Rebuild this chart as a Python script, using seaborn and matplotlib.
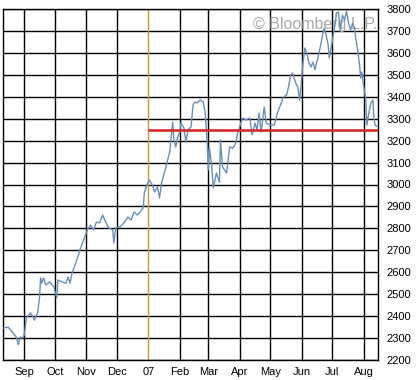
import matplotlib
matplotlib.use("Agg")
import matplotlib.pyplot as plt
import seaborn as sns
import pandas as pd

dates = [
    "2006-08-11", "2006-08-16", "2006-08-20", "2006-08-24", "2006-08-26", "2006-08-28", "2006-08-30",
    "2006-09-01", "2006-09-03", "2006-09-07", "2006-09-10", "2006-09-11", "2006-09-14", "2006-09-16",
    "2006-09-17", "2006-09-18", "2006-09-20", "2006-09-22", "2006-09-26", "2006-09-30",
    "2006-10-03", "2006-10-04", "2006-10-08", "2006-10-12", "2006-10-14", "2006-10-16", "2006-10-18",
    "2006-10-22", "2006-10-26", "2006-10-30",
    "2006-11-02", "2006-11-05", "2006-11-08", "2006-11-11", "2006-11-14", "2006-11-17", "2006-11-20",
    "2006-11-23", "2006-11-27", "2006-11-28", "2006-11-30",
    "2006-12-04", "2006-12-08", "2006-12-12", "2006-12-15", "2006-12-18", "2006-12-21", "2006-12-24",
    "2006-12-27", "2006-12-28", "2006-12-30",
    "2007-01-02", "2007-01-05", "2007-01-07", "2007-01-10", "2007-01-12", "2007-01-14", "2007-01-18",
    "2007-01-22", "2007-01-25", "2007-01-26", "2007-01-28", "2007-01-30",
    "2007-02-01", "2007-02-02", "2007-02-05", "2007-02-07", "2007-02-09", "2007-02-12", "2007-02-14",
    "2007-02-16", "2007-02-18", "2007-02-21", "2007-02-24", "2007-02-26", "2007-02-28",
    "2007-03-01", "2007-03-02", "2007-03-04", "2007-03-06", "2007-03-09", "2007-03-12", "2007-03-13",
    "2007-03-15", "2007-03-18", "2007-03-19", "2007-03-22", "2007-03-25", "2007-03-28", "2007-03-30",
    "2007-04-02", "2007-04-04", "2007-04-07", "2007-04-11", "2007-04-13", "2007-04-16", "2007-04-18",
    "2007-04-20", "2007-04-22", "2007-04-25", "2007-04-27",
    "2007-05-01", "2007-05-05", "2007-05-08", "2007-05-11", "2007-05-14", "2007-05-17", "2007-05-19",
    "2007-05-21", "2007-05-23", "2007-05-26", "2007-05-28", "2007-05-30", "2007-05-31",
    "2007-06-02", "2007-06-04", "2007-06-06", "2007-06-08", "2007-06-10", "2007-06-12", "2007-06-14",
    "2007-06-15", "2007-06-17", "2007-06-19", "2007-06-21", "2007-06-23", "2007-06-25", "2007-06-27",
    "2007-06-28", "2007-06-30",
    "2007-07-02", "2007-07-04", "2007-07-05", "2007-07-07", "2007-07-09", "2007-07-11", "2007-07-13",
    "2007-07-15", "2007-07-17", "2007-07-19", "2007-07-21", "2007-07-23", "2007-07-24", "2007-07-26",
    "2007-07-28", "2007-07-29", "2007-07-30",
    "2007-08-01", "2007-08-03", "2007-08-04", "2007-08-06", "2007-08-08", "2007-08-10", "2007-08-11",
    "2007-08-12", "2007-08-14",
]

values = [
    2345, 2350, 2328, 2305, 2270, 2305, 2300,
    2315, 2392, 2415, 2392, 2382, 2415, 2487,
    2574, 2550, 2574, 2542, 2556, 2533,
    2483, 2565, 2556, 2550, 2578, 2550, 2597,
    2647, 2705, 2756,
    2793, 2815, 2793, 2829, 2825, 2861, 2829,
    2802, 2793, 2733, 2802,
    2806, 2825, 2852, 2838, 2875, 2861, 2875,
    2893, 2961, 2989,
    3021, 2998, 2966, 2989, 2939, 3007, 3075,
    3148, 3285, 3212, 3171, 3217,
    3239, 3280, 3258, 3194, 3249, 3262, 3362,
    3376, 3372, 3385, 3376, 3326, 3189,
    3066, 3171, 3100, 2984, 3052, 3011, 3203,
    3080, 3060, 3052, 3171, 3165, 3189, 3235,
    3280, 3303, 3294, 3303, 3226, 3280, 3249,
    3326, 3239, 3353, 3280,
    3271, 3271, 3326, 3362, 3399, 3408, 3445,
    3499, 3508, 3463, 3445, 3385, 3440,
    3545, 3622, 3599, 3554, 3536, 3558, 3522,
    3545, 3581, 3622, 3672, 3713, 3681, 3636,
    3577, 3627,
    3681, 3736, 3781, 3786, 3704, 3772, 3750,
    3790, 3736, 3704, 3736, 3713, 3668, 3613,
    3536, 3485, 3513,
    3445, 3385, 3271, 3326, 3372, 3385, 3303,
    3271, 3265,
]

month_ticks = ["2006-09-01", "2006-10-01", "2006-11-01", "2006-12-01", "2007-01-01", "2007-02-01",
               "2007-03-01", "2007-04-01", "2007-05-01", "2007-06-01", "2007-07-01", "2007-08-01"]
month_labels = ["Sep", "Oct", "Nov", "Dec", "07", "Feb", "Mar", "Apr", "May", "Jun", "Jul", "Aug"]
y_ticks = list(range(2200, 3801, 100))

marker_date = "2007-01-01"
support_level = 3250
x_start, x_end = "2006-08-11", "2007-08-15"

sns.set_theme(style="white")
plt.rcParams["font.family"] = ["Liberation Sans", "DejaVu Sans"]

df = pd.DataFrame({"date": pd.to_datetime(dates), "value": values})

fig = plt.figure(figsize=(4.16, 3.80), dpi=100)
ax = fig.add_axes([3 / 416, 20 / 380, 375 / 416, 351 / 380])

xt = pd.to_datetime(month_ticks)
ax.set_xlim(pd.Timestamp(x_start), pd.Timestamp(x_end))
ax.set_ylim(2200, 3800)

for t in xt:
    if t != pd.Timestamp(marker_date):
        ax.axvline(t, color="black", lw=1.0, zorder=1)
for y in y_ticks:
    ax.axhline(y, color="black", lw=1.0, zorder=1)

ax.axvline(pd.Timestamp(marker_date), color="#c8963c", lw=1.0, zorder=2)

ax.text(0.998, 0.957, "\u00a9 Bloomberg L.P.", transform=ax.transAxes, ha="right", va="center",
        fontsize=11.5, color="#a8a8a8", zorder=1.5)

sns.lineplot(data=df, x="date", y="value", ax=ax, color="#6b8fb8", lw=1.0, zorder=3)

ax.plot([pd.Timestamp(marker_date), pd.Timestamp(x_end)], [support_level, support_level],
        color="#d42a2a", lw=1.9, zorder=4, solid_capstyle="butt")

ax.set_xticks(xt)
ax.set_xticklabels(month_labels)
ax.set_yticks(y_ticks)
ax.yaxis.tick_right()
ax.tick_params(axis="both", length=0, labelsize=8, colors="black")
ax.tick_params(axis="y", pad=6)
ax.tick_params(axis="x", pad=5)
ax.set_xlabel("")
ax.set_ylabel("")
for s in ax.spines.values():
    s.set_color("black")
    s.set_linewidth(1.0)
    s.set_visible(True)

fig.savefig("out.png", dpi=100, facecolor="white")
